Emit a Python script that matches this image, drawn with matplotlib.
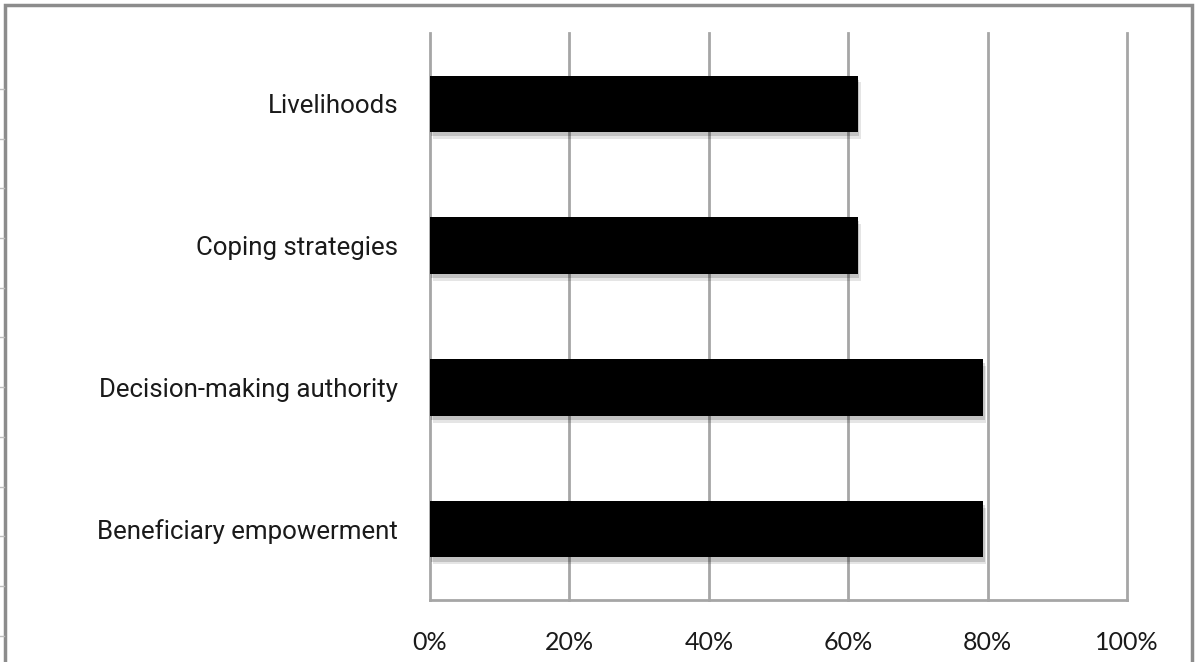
import matplotlib
matplotlib.use("Agg")
import matplotlib.pyplot as plt
import matplotlib.patheffects as pe
from matplotlib.lines import Line2D
from matplotlib.patches import Rectangle
from matplotlib.ticker import FuncFormatter

categories = ["Beneficiary empowerment", "Decision-making authority",
              "Coping strategies", "Livelihoods"]
values = [0.794, 0.794, 0.614, 0.614]
xticks = [0.0, 0.2, 0.4, 0.6, 0.8, 1.0]

W, H = 1195, 662
fig = plt.figure(figsize=(W / 100, H / 100), dpi=100)
fig.patch.set_facecolor("white")

ax = fig.add_axes([430 / W, 1 - 600 / H, (1127 - 430) / W, (600 - 33) / H])
grid_c = "#a6a6a6"

ypos = list(range(len(categories)))
bars = ax.barh(ypos, values, height=0.4, color="black", zorder=3)
for b in bars:
    b.set_path_effects([
        pe.SimplePatchShadow(offset=(2, -5), shadow_rgbFace="#000000", alpha=0.10),
        pe.SimplePatchShadow(offset=(1, -3), shadow_rgbFace="#000000", alpha=0.15),
        pe.Normal()])

ax.set_xlim(0, 1.0)
ax.set_ylim(-0.5, len(categories) - 0.5)
ax.set_xticks(xticks)
ax.xaxis.set_major_formatter(FuncFormatter(lambda v, _: f"{v:.0%}"))
ax.set_yticks(ypos)
ax.set_yticklabels(categories)

for x in xticks[1:]:
    ax.axvline(x, color=grid_c, lw=2, zorder=1, clip_on=False)

for s in ["top", "right"]:
    ax.spines[s].set_visible(False)
for s in ["left", "bottom"]:
    ax.spines[s].set_color(grid_c)
    ax.spines[s].set_linewidth(2)

ax.tick_params(axis="both", length=0)
ax.tick_params(axis="x", pad=22, labelcolor="#1a1a1a")
ax.tick_params(axis="y", pad=23, labelcolor="#1a1a1a")
for lab in ax.get_xticklabels():
    lab.set_fontfamily(["Lato", "DejaVu Sans"])
    lab.set_fontsize(18)
for lab in ax.get_yticklabels():
    lab.set_fontfamily(["Roboto", "DejaVu Sans"])
    lab.set_fontsize(18.6)

# outer chart frame
fig.add_artist(Rectangle((4.5 / W, -0.05), (1192 - 4.5) / W, 1.05 - 4.5 / H,
                         transform=fig.transFigure, fill=False,
                         edgecolor="#8c8c8c", lw=2.5))
for k in range(12):
    yy = 1 - (89 + 49.7 * k) / H
    fig.add_artist(Line2D([0, 4 / W], [yy, yy], transform=fig.transFigure,
                          color="#bdbdbd", lw=1))

fig.savefig("out.png", dpi=100)
